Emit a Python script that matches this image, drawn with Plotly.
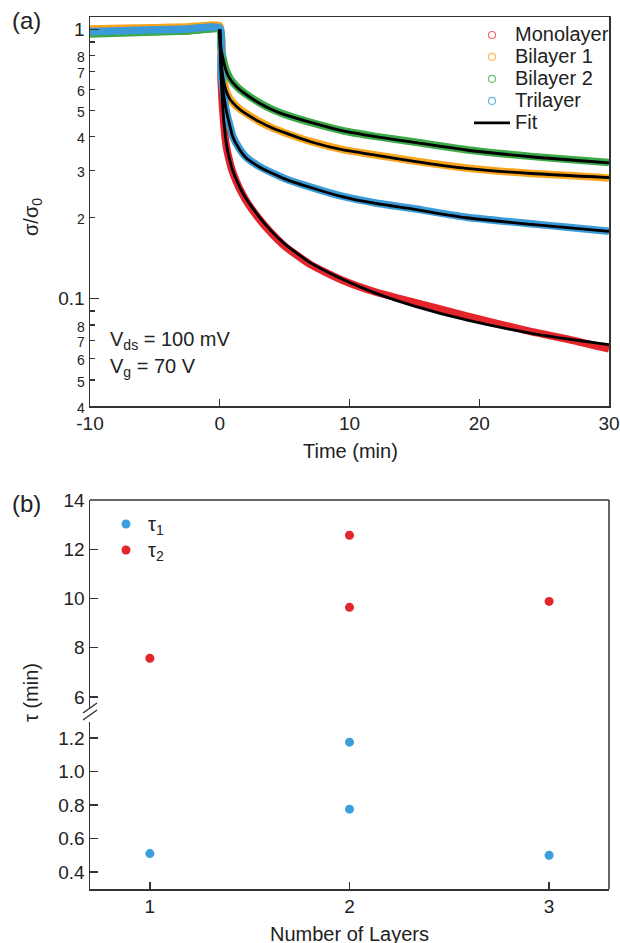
import plotly.graph_objects as go

FONT = "Liberation Sans, Arial, Helvetica, sans-serif"

# ---------------- Panel (a) data ----------------
t_data = [-10, -7.5, -5, -2.5, 0, 0.1, 0.25, 0.5, 0.75, 1, 1.5, 2, 3, 4, 5, 7, 9.5, 12, 15, 19, 24, 27, 30]
mono_data = [0.975, 0.98, 0.985, 0.99, 1.0, 0.66, 0.49, 0.37, 0.325, 0.295, 0.258, 0.233, 0.199, 0.175,
             0.157, 0.134, 0.117, 0.106, 0.097, 0.0865, 0.0755, 0.0705, 0.0652]
bi1_data = [1.004, 1.01, 1.016, 1.022, 1.03, 0.78, 0.665, 0.592, 0.557, 0.537, 0.508, 0.489, 0.457, 0.432,
            0.414, 0.384, 0.358, 0.342, 0.325, 0.306, 0.292, 0.287, 0.281]
bi2_data = [0.962, 0.97, 0.978, 0.988, 1.0, 0.855, 0.785, 0.705, 0.665, 0.638, 0.602, 0.577, 0.537, 0.506,
            0.484, 0.452, 0.421, 0.401, 0.382, 0.358, 0.338, 0.329, 0.321]
tri_data = [0.983, 0.99, 0.997, 1.005, 1.013, 0.72, 0.60, 0.50, 0.445, 0.402, 0.362, 0.337, 0.311, 0.294,
            0.28, 0.26, 0.24, 0.227, 0.216, 0.201, 0.19, 0.184, 0.178]

t_fit = [0, 0.1, 0.25, 0.5, 0.75, 1, 1.5, 2, 3, 4, 5, 7, 9.5, 12, 15, 19, 24, 30]
mono_fit = [1.0, 0.68, 0.50, 0.38, 0.33, 0.30, 0.262, 0.237, 0.203, 0.178, 0.160, 0.136, 0.118, 0.105,
            0.094, 0.0835, 0.0745, 0.0676]
bi1_fit = [1.0, 0.78, 0.66, 0.59, 0.555, 0.535, 0.507, 0.487, 0.456, 0.432, 0.414, 0.383, 0.357, 0.342,
           0.324, 0.305, 0.292, 0.282]
bi2_fit = [1.0, 0.85, 0.78, 0.70, 0.66, 0.635, 0.60, 0.575, 0.535, 0.505, 0.483, 0.452, 0.42, 0.40,
           0.381, 0.357, 0.337, 0.32]
tri_fit = [1.0, 0.72, 0.60, 0.50, 0.445, 0.40, 0.36, 0.335, 0.31, 0.293, 0.279, 0.259, 0.239, 0.226,
           0.215, 0.20, 0.189, 0.178]

series_names = ["Monolayer", "Bilayer 1", "Bilayer 2", "Trilayer"]
band_colors = ["#E4252B", "#F8A51D", "#3DAA49", "#3B9AD8"]
legend_colors = ["#EE6A6A", "#F9BE5C", "#6CC075", "#6DB6E6"]

a_ticks = [0.04, 0.05, 0.06, 0.07, 0.08, 0.09, 0.1, 0.2, 0.3, 0.4, 0.5, 0.6, 0.7, 0.8, 0.9, 1]
a_labels = ["4", "5", "6", "7", "8", "", "0.1", "2", "3", "4", "5", "6", "7", "8", "", "1"]
a_major = [0.1, 1]
a_xticks = [-10, 0, 10, 20, 30]
a_xlabels = ["-10", "0", "10", "20", "30"]

# ---------------- Panel (b) data ----------------
layers_tau1 = [1, 2, 2, 3]
tau1 = [0.51, 0.775, 1.175, 0.50]
layers_tau2 = [1, 2, 2, 3]
tau2 = [7.57, 9.64, 12.57, 9.88]
b_upper_ticks = [6, 8, 10, 12, 14]
b_lower_ticks = [0.4, 0.6, 0.8, 1.0, 1.2]
b_lower_labels = ["0.4", "0.6", "0.8", "1.0", "1.2"]
b_xticks = [1, 2, 3]

# ---------------- geometry helpers (pixel -> paper) ----------------
L, R, T, B = 90, 609, 17, 889
W, H = 620, 943


def px(x):
    return (x - L) / (R - L)


def py(y):
    return (B - y) / (B - T)


fig = go.Figure()

big = '<span style="font-size:20px">{}</span>'

# legend-only entries for the measured data (open circles)
for name, col in zip(series_names, legend_colors):
    fig.add_trace(go.Scatter(x=[None], y=[None], mode="markers", name=big.format(name),
                             marker=dict(symbol="circle-open", size=7, color=col, line=dict(width=1.2)),
                             xaxis="x", yaxis="y", legend="legend"))

# measured data bands
for vals, col in zip([mono_data, bi1_data, bi2_data, tri_data], band_colors):
    fig.add_trace(go.Scatter(x=t_data, y=vals, mode="lines", showlegend=False,
                             line=dict(color=col, width=7.5, shape="spline", smoothing=0.5),
                             xaxis="x", yaxis="y"))

# fits
for i, vals in enumerate([mono_fit, bi1_fit, bi2_fit, tri_fit]):
    fig.add_trace(go.Scatter(x=t_fit, y=vals, mode="lines", name=big.format("Fit"), showlegend=(i == 0),
                             line=dict(color="black", width=2.8, shape="spline", smoothing=0.6),
                             xaxis="x", yaxis="y", legend="legend"))

# panel (b)
fig.add_trace(go.Scatter(x=layers_tau1, y=tau1, mode="markers", name=big.format("τ<sub>1</sub>"),
                         marker=dict(size=9, color="#3C9FDD"), xaxis="x2", yaxis="y3", legend="legend2"))
fig.add_trace(go.Scatter(x=layers_tau2, y=tau2, mode="markers", name=big.format("τ<sub>2</sub>"),
                         marker=dict(size=9, color="#E4252B"), xaxis="x2", yaxis="y2", legend="legend2"))

# invisible trace to carry the long major ticks of the log axis
fig.add_trace(go.Scatter(x=[None], y=[None], mode="markers", showlegend=False, hoverinfo="skip",
                         xaxis="x", yaxis="y4"))

axis_common = dict(showline=True, linecolor="#333333", linewidth=1.5, ticks="inside",
                   tickcolor="#333333", tickwidth=1.3, showgrid=False, zeroline=False, automargin=False,
                   tickfont=dict(family=FONT, size=19, color="#222222"))

y_top_domain = [py(406), 1.0]
y_up_domain = [py(708), py(500)]
y_low_domain = [0.0, py(722)]

small = '<span style="font-size:14px">{}</span>'
a_text = [lab if lab in ("0.1", "1", "") else small.format(lab) for lab in a_labels]

fig.update_layout(
    width=W, height=H,
    margin=dict(l=L, r=W - R, t=T, b=H - B, autoexpand=False),
    paper_bgcolor="white", plot_bgcolor="white",
    font=dict(family=FONT, color="#222222"),
    hovermode=False,
    xaxis=dict(axis_common, domain=[0, 1], anchor="y", range=[-10, 30], tickvals=a_xticks,
               ticktext=a_xlabels, ticklen=7, mirror=True),
    yaxis=dict(axis_common, domain=y_top_domain, anchor="x", type="log",
               range=[-1.39794, 0.0465], tickvals=a_ticks, ticktext=a_text, ticklen=5, mirror=True),
    yaxis4=dict(axis_common, overlaying="y", anchor="x", side="left", type="log",
                range=[-1.39794, 0.0465], tickvals=a_major, showticklabels=False, ticklen=9,
                showline=False),
    xaxis2=dict(axis_common, domain=[0, 1], anchor="y3", range=[0.7, 3.3], tickvals=b_xticks, ticklen=7),
    yaxis2=dict(axis_common, domain=y_up_domain, anchor="x2", range=[5.55, 14.0],
                tickvals=b_upper_ticks, ticklen=8),
    yaxis3=dict(axis_common, domain=y_low_domain, anchor="x2", range=[0.2985, 1.2955],
                tickvals=b_lower_ticks, ticktext=b_lower_labels, ticklen=8),
    legend=dict(x=px(469), y=py(19), xanchor="left", yanchor="top", bgcolor="rgba(0,0,0,0)",
                font=dict(family=FONT, size=14.6, color="#222222"), tracegroupgap=0, itemwidth=36),
    legend2=dict(x=px(104), y=py(506), xanchor="left", yanchor="top", bgcolor="rgba(0,0,0,0)",
                 font=dict(family=FONT, size=17.7, color="#222222"), tracegroupgap=0, itemwidth=34),
)

# frame lines for panel (b): top and right
line_style = dict(color="#333333", width=1.5)
fig.add_shape(type="line", xref="paper", yref="paper", x0=0, x1=1, y0=py(500), y1=py(500), line=line_style)
fig.add_shape(type="line", xref="paper", yref="paper", x0=1, x1=1, y0=0, y1=py(500), line=line_style)
# axis break marks
for dy in (0, 7):
    fig.add_shape(type="line", xref="paper", yref="paper",
                  x0=px(83), x1=px(97), y0=py(717 + dy - 4), y1=py(707 + dy - 4),
                  line=dict(color="#333333", width=1.5))

ann_font = dict(family=FONT, size=20, color="#222222")
annotations = [
    dict(text="(a)", x=px(26), y=py(21), font=dict(family=FONT, size=24, color="#222222")),
    dict(text="(b)", x=px(26), y=py(503), font=dict(family=FONT, size=24, color="#222222")),
    dict(text="σ/σ<sub>0</sub>", x=px(33), y=py(217), textangle=-90, font=ann_font),
    dict(text="Time (min)", x=px(350), y=py(451), font=ann_font),
    dict(text="τ (min)", x=px(31), y=py(693), textangle=-90, font=ann_font),
    dict(text="Number of Layers", x=px(349), y=py(934), font=ann_font),
    dict(text="V<sub>ds</sub> = 100 mV", x=px(108), y=py(340), xanchor="left", font=ann_font),
    dict(text="V<sub>g</sub> = 70 V", x=px(108), y=py(367), xanchor="left", font=ann_font),
]
for a in annotations:
    a.setdefault("xanchor", "center")
    fig.add_annotation(xref="paper", yref="paper", showarrow=False, yanchor="middle", **a)

fig.write_html("out.html", config={"displayModeBar": False, "staticPlot": True},
               post_script="document.body.style.margin='0';document.body.style.overflow='hidden';")
